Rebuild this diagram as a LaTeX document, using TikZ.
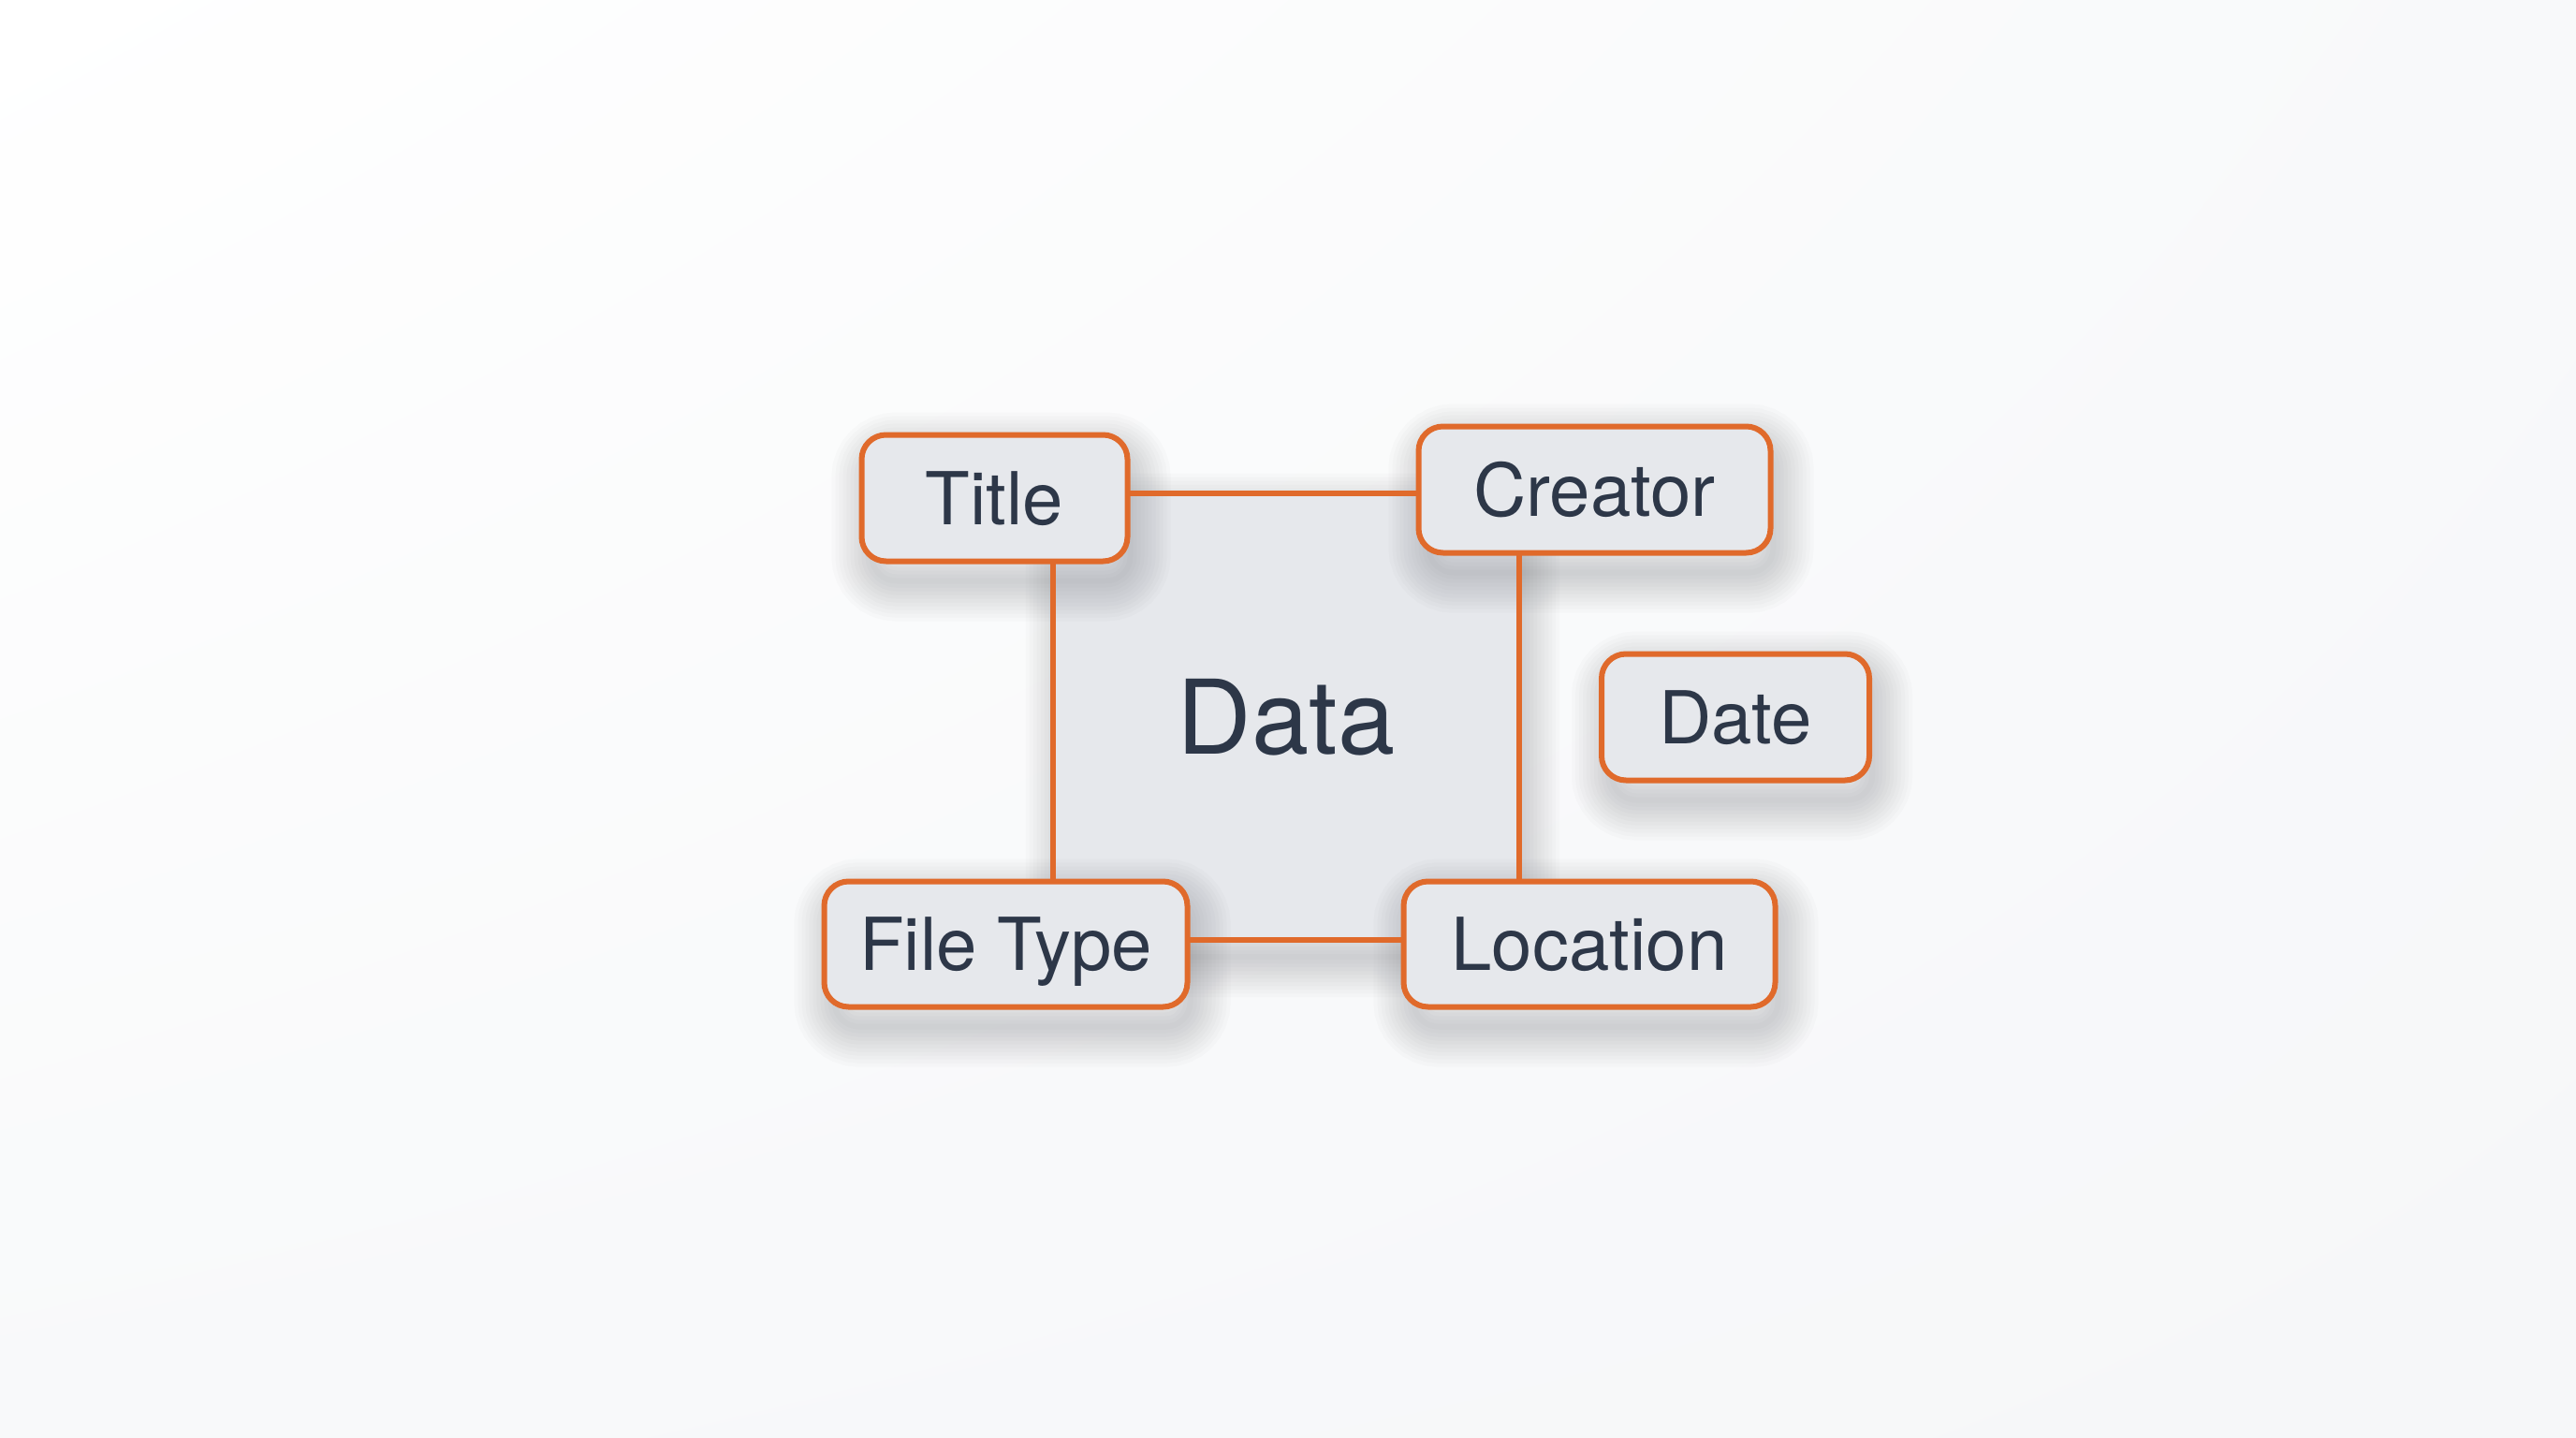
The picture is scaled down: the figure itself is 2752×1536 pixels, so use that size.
\documentclass[tikz,border=0pt]{standalone}
\usepackage{fontspec}
\setmainfont{TeX Gyre Heros}
\usetikzlibrary{shadings}
\definecolor{bgA}{HTML}{FFFFFF}
\definecolor{bgB}{HTML}{F8F9FA}
\definecolor{bgC}{HTML}{F6F7F9}
\definecolor{boxfill}{HTML}{E6E8EC}
\definecolor{accent}{HTML}{E06A2B}
\definecolor{ink}{HTML}{2D3748}
\definecolor{shadowc}{HTML}{55585F}
\pgfdeclarelayer{bglayer}
\pgfdeclarelayer{datalayer}
\pgfdeclarelayer{shadowlayer}
\pgfsetlayers{bglayer,datalayer,shadowlayer,main}
\tikzset{
  tagbox/.style={rectangle, rounded corners=26pt, draw=accent, line width=6pt, fill=boxfill,
    text=ink, font=\fontsize{78}{90}\selectfont, text height=56pt, text depth=0pt, inner sep=0pt},
  conn/.style={draw=accent, line width=6pt},
  shadowlayerstyle/.style={draw=shadowc, draw opacity=0.024, line width=#1},
}
\newcommand{\softshadow}[2]{% node name, corner radius
  \foreach \w in {6,14,22,30,38,46,54,62,70,78,86}{
    \path[shadowlayerstyle=\w pt, rounded corners=#2]
      ([shift={(14pt,-18pt)}]#1.south west) rectangle ([shift={(0pt,-22pt)}]#1.north east);
  }%
}
\begin{document}
\begin{tikzpicture}[x=1pt,y=-1pt]
\useasboundingbox (0,0) rectangle (2752,1536);
\begin{pgfonlayer}{bglayer}
\shade[upper left=bgA, upper right=bgB, lower left=bgB, lower right=bgC] (0,0) rectangle (2752,1536);
\end{pgfonlayer}
% central square
\begin{pgfonlayer}{datalayer}
\node[rectangle, fill=boxfill, minimum width=498pt, minimum height=477pt, inner sep=0pt,
  text=ink, font=\fontsize{110}{130}\selectfont, text height=80pt, text depth=0pt] (data) at (1374,765.5) {Data};
\end{pgfonlayer}
\begin{pgfonlayer}{bglayer}
\softshadow{data}{20pt}
\end{pgfonlayer}
% connectors (the square's edges), drawn before the boxes
\path (1062.5,532) coordinate (ptitle)
      (1703.5,523) coordinate (pcreator)
      (1074.5,1008.5) coordinate (pfile)
      (1698,1008.5) coordinate (ploc);
\draw[conn] (ptitle |- data.north) -- (pcreator |- data.north);
\draw[conn] (ptitle -| data.west) -- (pfile -| data.west);
\draw[conn] (pcreator -| data.east) -- (ploc -| data.east);
\draw[conn] (pfile |- data.south) -- (ploc |- data.south);
% boxes
\node[tagbox, minimum width=284pt, minimum height=135pt] (title) at (ptitle) {Title};
\node[tagbox, minimum width=376pt, minimum height=135pt] (creator) at (pcreator) {Creator};
\node[tagbox, minimum width=286pt, minimum height=135pt] (date) at (1854,766) {Date};
\node[tagbox, minimum width=388pt, minimum height=134pt] (filetype) at (pfile) {File Type};
\node[tagbox, minimum width=397pt, minimum height=134pt] (location) at (ploc) {Location};
\begin{pgfonlayer}{shadowlayer}
\softshadow{title}{26pt}
\softshadow{creator}{26pt}
\softshadow{date}{26pt}
\softshadow{filetype}{26pt}
\softshadow{location}{26pt}
\end{pgfonlayer}
\end{tikzpicture}
\end{document}
